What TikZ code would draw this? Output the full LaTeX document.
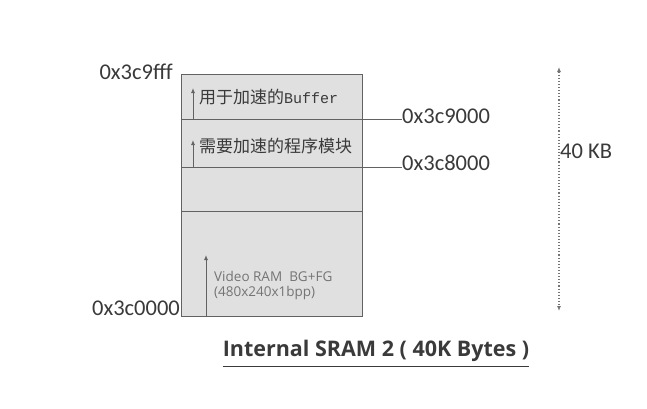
\documentclass[tikz,border=0pt]{standalone}
\usepackage{fontspec}
\setmainfont{Carlito}
\newfontfamily\cjk{Noto Sans CJK SC}
\newfontfamily\monof{Liberation Mono}
\newfontfamily\titlefont{Open Sans}
\usetikzlibrary{arrows.meta}
\definecolor{boxfill}{HTML}{E0E0E0}
\definecolor{edge}{HTML}{626262}
\definecolor{ink}{HTML}{3A3A3A}
\definecolor{lightink}{HTML}{747474}
\tikzset{
  region/.style={draw=edge, fill=boxfill, line width=1pt, inner sep=0pt, outer sep=0pt,
    minimum width=181pt, anchor=north west},
  addr/.style={text=ink, font=\fontsize{22.5}{26}\selectfont, inner sep=0pt},
  cjklabel/.style={text=ink, font=\fontsize{17}{19}\selectfont, inner sep=0pt, anchor=west},
  uparrow/.style={draw=edge, line width=0.9pt, -{Latex[length=5pt,width=4pt]}},
  leader/.style={draw=edge, line width=0.9pt},
  span/.style={draw=lightink, line width=1.1pt, dotted, {Latex[length=5pt,width=4pt]}-{Latex[length=5pt,width=4pt]}}
}
\begin{document}
\begin{tikzpicture}[x=1pt,y=-1pt]
\useasboundingbox (0,0) rectangle (647,408);
% regions
\node[region, minimum height=45pt] (buf) at (181,74) {};
\node[region, minimum height=48pt] (prog) at (181,119) {};
\node[region, minimum height=44pt] (gap) at (181,167) {};
\node[region, minimum height=105pt] (vram) at (181,211) {};
% address labels
\node[addr, anchor=east] (atop) at (173,72) {0x3c9fff};
\node[addr, anchor=east] (abot) at (180,308) {0x3c0000};
\node[addr, anchor=west] (a9) at (402,116) {0x3c9000};
\node[addr, anchor=west] (a8) at (402,163) {0x3c8000};
\draw[leader] (buf.south east) -- (a9.west |- buf.south east);
\draw[leader] (prog.south east) -- (a8.west |- prog.south east);
% inner arrows and labels
\coordinate (t1) at (193,88);
\coordinate (t2) at (193,140);
\coordinate (t3) at (206,255);
\draw[uparrow] (t1 |- buf.south) -- (t1);
\draw[uparrow] (t2 |- prog.south) -- (t2);
\draw[uparrow] (t3 |- vram.south) -- (t3);
\node[cjklabel] (l1) at (199,97) {\cjk 用于加速的{\monof\fontsize{15}{18}\selectfont Buffer}};
\node[cjklabel] (l2) at (199,146) {\cjk 需要加速的程序模块};
\node[text=lightink, font=\titlefont\fontsize{13.5}{14.5}\selectfont, align=left, anchor=base west, inner sep=0pt] (l3) at (214,296) {Video RAM\ \ BG+FG\\(480x240x1bpp)};
% size span
\coordinate (stop) at (559,67);
\coordinate (sbot) at (559,311);
\draw[span] (stop) -- (sbot);
\node[addr, anchor=west] (kb) at (560,151) {40 KB};
% title
\node[text=ink, font=\titlefont\bfseries\fontsize{21.5}{24}\selectfont, inner sep=0pt] (title) at (376,351) {Internal SRAM 2 ( 40K Bytes )};
\draw[draw=ink, line width=1pt] ([yshift=-5pt]title.south west) -- ([yshift=-5pt]title.south east);
\end{tikzpicture}
\end{document}
